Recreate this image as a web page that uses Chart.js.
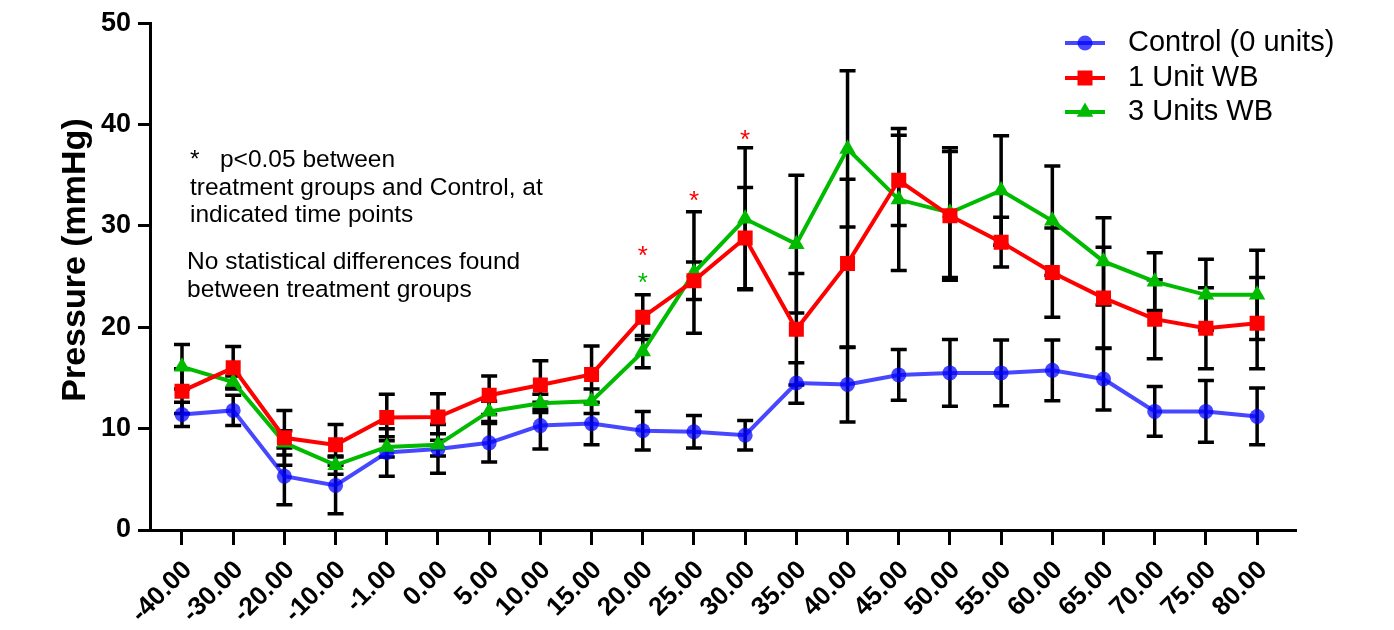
<!DOCTYPE html>
<html>
<head>
<meta charset="utf-8">
<script src="https://cdn.jsdelivr.net/npm/chart.js@4.4.1/dist/chart.umd.min.js"></script>
<style>
    html, body { margin: 0; padding: 0; background: #ffffff; }
    canvas { display: block; }
</style>
</head>
<body>
<canvas id="pressure_chart" width="1394" height="630"></canvas>
<script>
// time points (minutes) shown on the x axis
const time_labels = ["-40.00", "-30.00", "-20.00", "-10.00", "-1.00", "0.00", "5.00", "10.00", "15.00", "20.00", "25.00",
    "30.00", "35.00", "40.00", "45.00", "50.00", "55.00", "60.00", "65.00", "70.00", "75.00", "80.00"];

const series_names = ["Control (0 units)", "1 Unit WB", "3 Units WB"];

const control_mean = [11.4, 11.8, 5.3, 4.4, 7.65, 8.0, 8.6, 10.3, 10.5, 9.8, 9.7, 9.35, 14.5, 14.35, 15.3, 15.5, 15.5, 15.75, 14.9, 11.7, 11.7, 11.2];
const control_sd = [1.2, 1.5, 2.8, 2.8, 2.35, 2.4, 1.9, 2.3, 2.1, 1.9, 1.6, 1.45, 2.0, 3.7, 2.5, 3.3, 3.25, 3.0, 3.05, 2.45, 3.05, 2.8];

const one_unit_mean = [13.7, 16.0, 9.1, 8.4, 11.1, 11.15, 13.3, 14.3, 15.35, 21.0, 24.6, 28.8, 19.8, 26.3, 34.5, 31.0, 28.4, 25.4, 22.9, 20.8, 19.9, 20.4];
const one_unit_sd = [2.2, 2.1, 2.7, 2.0, 2.3, 2.3, 1.9, 2.4, 2.8, 2.2, 1.85, 5.0, 5.5, 8.3, 4.45, 6.35, 2.45, 4.4, 5.0, 3.9, 4.0, 4.5];

const three_units_mean = [16.1, 14.6, 8.6, 6.4, 8.2, 8.4, 11.7, 12.5, 12.7, 17.6, 25.4, 30.7, 28.2, 37.6, 32.6, 31.3, 33.5, 30.5, 26.5, 24.5, 23.2, 23.2];
const three_units_sd = [2.2, 0.6, 1.2, 0.9, 1.0, 1.1, 1.0, 0.9, 1.2, 1.6, 6.0, 7.0, 6.8, 7.7, 7.0, 6.4, 5.4, 5.4, 4.3, 2.85, 3.5, 4.4];

// significance stars: time point index, height (mmHg), series they belong to
const star_index = [9, 9, 10, 11];
const star_value = [27.5, 24.9, 33.0, 39.0];
const star_series = ["1 Unit WB", "3 Units WB", "1 Unit WB", "1 Unit WB"];

const note_lines = ["*   p<0.05 between", "treatment groups and Control, at", "indicated time points",
    "No statistical differences found", "between treatment groups"];

const y_title = "Pressure (mmHg)";

const FONT = "'Liberation Sans', Arial, Helvetica, sans-serif";

function to_points(values) {
    return values.map((v, i) => ({ x: i, y: v }));
}

const error_bars = {
    id: 'error_bars',
    beforeDatasetsDraw(chart) {
        const ctx = chart.ctx;
        const xs = chart.scales.x;
        const ys = chart.scales.y;
        ctx.save();
        ctx.strokeStyle = "#000000";
        ctx.lineWidth = 3.5;
        chart.data.datasets.forEach((ds) => {
            ds.sd.forEach((e, i) => {
                const m = ds.data[i].y;
                const x = xs.getPixelForValue(i);
                const top = ys.getPixelForValue(m + e);
                const bot = ys.getPixelForValue(m - e);
                ctx.beginPath();
                ctx.moveTo(x, top);
                ctx.lineTo(x, bot);
                ctx.moveTo(x - 8, top);
                ctx.lineTo(x + 8, top);
                ctx.moveTo(x - 8, bot);
                ctx.lineTo(x + 8, bot);
                ctx.stroke();
            });
        });
        ctx.restore();
    }
};

const overlay = {
    id: 'overlay',
    afterDraw(chart) {
        const ctx = chart.ctx;
        const xs = chart.scales.x;
        const ys = chart.scales.y;
        const datasets = chart.data.datasets;
        ctx.save();

        // y axis title
        ctx.save();
        ctx.translate(76, 260);
        ctx.rotate(-Math.PI / 2);
        ctx.fillStyle = "#000000";
        ctx.font = "bold 34px " + FONT;
        ctx.textAlign = "center";
        ctx.textBaseline = "middle";
        ctx.fillText(y_title, 0, 0);
        ctx.restore();

        // notes
        ctx.fillStyle = "#000000";
        ctx.font = "24.5px " + FONT;
        ctx.textAlign = "left";
        ctx.textBaseline = "middle";
        const note_y = [160, 188, 215, 262, 290];
        const note_x = [190, 190, 190, 187, 187];
        note_lines.forEach((t, k) => ctx.fillText(t, note_x[k], note_y[k]));

        // stars
        ctx.font = "26px " + FONT;
        ctx.textAlign = "center";
        star_index.forEach((idx, k) => {
            const ds = datasets.find((d) => d.label === star_series[k]);
            ctx.fillStyle = ds.borderColor;
            ctx.fillText("*", xs.getPixelForValue(idx), ys.getPixelForValue(star_value[k]) + 6);
        });

        // legend
        const legend_y = [43, 78, 112];
        series_names.forEach((name, k) => {
            const ds = datasets.find((d) => d.label === name);
            const y = legend_y[k];
            ctx.strokeStyle = ds.borderColor;
            ctx.lineWidth = ds.borderWidth;
            ctx.beginPath();
            ctx.moveTo(1065, y);
            ctx.lineTo(1105, y);
            ctx.stroke();
            ctx.fillStyle = ds.pointBackgroundColor;
            Chart.helpers.drawPoint(ctx, { pointStyle: ds.pointStyle, radius: ds.pointRadius, rotation: 0, borderWidth: 0 }, 1085, y);
            ctx.fillStyle = "#000000";
            ctx.font = "29px " + FONT;
            ctx.textAlign = "left";
            ctx.textBaseline = "middle";
            ctx.fillText(name, 1128, y);
        });
        ctx.restore();
    }
};

const pressure_ctx = document.getElementById("pressure_chart").getContext("2d");

const pressure_data = {
    datasets: [
        {
            label: series_names[0],
            data: to_points(control_mean),
            sd: control_sd,
            borderColor: "rgba(0, 0, 255, 0.72)",
            backgroundColor: "rgba(0, 0, 255, 0.72)",
            pointBackgroundColor: "rgba(0, 0, 255, 0.72)",
            pointStyle: "circle",
            pointRadius: 7.5,
            pointBorderWidth: 0,
            borderWidth: 4,
            order: 3
        },
        {
            label: series_names[1],
            data: to_points(one_unit_mean),
            sd: one_unit_sd,
            borderColor: "#ff0000",
            backgroundColor: "#ff0000",
            pointBackgroundColor: "#ff0000",
            pointStyle: "rect",
            pointRadius: 10.6,
            pointBorderWidth: 0,
            borderWidth: 4,
            order: 1
        },
        {
            label: series_names[2],
            data: to_points(three_units_mean),
            sd: three_units_sd,
            borderColor: "#00bb00",
            backgroundColor: "#00bb00",
            pointBackgroundColor: "#00bb00",
            pointStyle: "triangle",
            pointRadius: 9.5,
            pointBorderWidth: 0,
            borderWidth: 4,
            order: 2
        }
    ]
};

const pressure_config = {
    type: 'line',
    data: pressure_data,
    options: {
        responsive: false,
        animation: false,
        layout: { padding: { top: 22, right: 99, left: 0, bottom: 0 } },
        elements: { line: { tension: 0 } },
        plugins: {
            legend: { display: false },
            tooltip: { enabled: false }
        },
        scales: {
            x: {
                type: 'linear',
                min: -0.625,
                max: 21.74,
                afterBuildTicks: (s) => { s.ticks = time_labels.map((_, i) => ({ value: i })); },
                afterFit: (s) => { s.height = 100; },
                border: { color: "#000000", width: 3 },
                grid: { drawOnChartArea: false, color: "#000000", lineWidth: 3, tickLength: 15, tickWidth: 3, tickColor: "#000000" },
                ticks: {
                    autoSkip: false,
                    minRotation: 45,
                    maxRotation: 45,
                    padding: 10,
                    labelOffset: 6,
                    color: "#000000",
                    font: { family: FONT, size: 26, weight: 'bold' },
                    callback: (v) => time_labels[v]
                }
            },
            y: {
                min: 0,
                max: 50,
                afterFit: (s) => { s.width = 150; },
                border: { color: "#000000", width: 3 },
                grid: { drawOnChartArea: false, color: "#000000", lineWidth: 3, tickLength: 12, tickWidth: 3, tickColor: "#000000" },
                ticks: {
                    stepSize: 10,
                    padding: 7,
                    color: "#000000",
                    font: { family: FONT, size: 27, weight: 'bold' }
                }
            }
        }
    },
    plugins: [error_bars, overlay]
};

const pressure_chart = new Chart(pressure_ctx, pressure_config);
</script>
</body>
</html>
